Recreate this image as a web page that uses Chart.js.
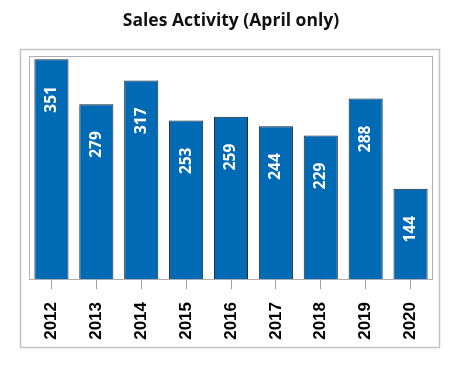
<!DOCTYPE html>
<html>
<head>
<meta charset="utf-8">
<script src="https://cdn.jsdelivr.net/npm/chart.js@4"></script>
<style>
  html, body { margin: 0; padding: 0; background: #fff; }
  #wrap { width: 460px; height: 369px; }
</style>
</head>
<body>
<div id="wrap"><canvas id="salesChart" width="460" height="369"></canvas></div>
<script>
const years = ['2012', '2013', '2014', '2015', '2016', '2017', '2018', '2019', '2020'];
const sales = [351, 279, 317, 253, 259, 244, 229, 288, 144];
const yMax = 356;

// outer frame, plot box and the white numbers inside the bars
const decor = {
  id: 'decor',
  beforeDraw(chart) {
    const ctx = chart.ctx;
    const a = chart.chartArea;
    ctx.save();
    ctx.strokeStyle = '#c4c4c4';
    ctx.lineWidth = 1.5;
    ctx.strokeRect(20.5, 49.5, 419, 298);
    ctx.strokeStyle = '#b0b0b0';
    ctx.lineWidth = 1;
    ctx.strokeRect(a.left + 0.5, a.top + 0.5, a.width - 1, a.height);
    ctx.restore();
  },
  afterDatasetsDraw(chart) {
    const ctx = chart.ctx;
    const bars = chart.getDatasetMeta(0).data;
    ctx.save();
    ctx.fillStyle = '#ffffff';
    ctx.font = 'bold 15.5px "Open Sans"';
    ctx.textAlign = 'right';
    ctx.textBaseline = 'middle';
    bars.forEach((bar, i) => {
      ctx.save();
      ctx.translate(bar.x, bar.y + 27);
      ctx.rotate(-Math.PI / 2);
      ctx.fillText(String(sales[i]), 0, 0);
      ctx.restore();
    });
    ctx.restore();
  }
};

new Chart(document.getElementById('salesChart'), {
  type: 'bar',
  data: {
    labels: years,
    datasets: [{
      data: sales,
      backgroundColor: '#006ab4',
      borderColor: '#17202a',
      borderWidth: 1,
      categoryPercentage: 1,
      barPercentage: 0.76
    }]
  },
  options: {
    responsive: false,
    animation: false,
    layout: { padding: { left: 29, right: 27, top: 0, bottom: 0 } },
    plugins: {
      legend: { display: false },
      tooltip: { enabled: false },
      title: {
        display: true,
        text: 'Sales Activity (April only)',
        color: '#111',
        font: { family: 'Open Sans', size: 17.5, weight: 'bold' },
        padding: { top: 11, bottom: 24 }
      }
    },
    scales: {
      x: {
        afterFit(s) { s.height = 90; },
        grid: { drawOnChartArea: false, offset: false, tickLength: 10, color: '#a0a0a0' },
        border: { display: false },
        ticks: {
          minRotation: 90,
          maxRotation: 90,
          padding: 13,
          color: '#000',
          font: { family: 'Liberation Sans', size: 17, weight: 'bold' }
        }
      },
      y: {
        display: false,
        min: 0,
        max: yMax
      }
    }
  },
  plugins: [decor]
});
</script>
</body>
</html>
